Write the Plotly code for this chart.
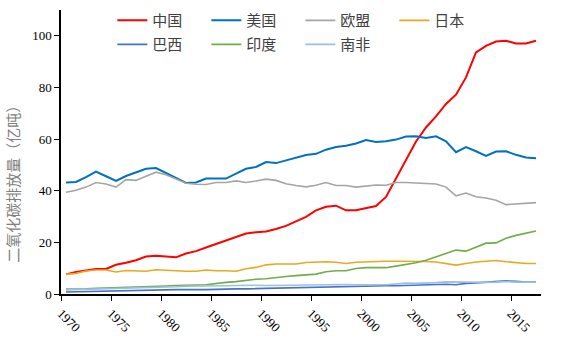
import plotly.graph_objects as go

years = list(range(1970, 2018))

china = [7.6, 8.5, 9.1, 9.7, 9.7, 11.3, 12.1, 13.1, 14.5, 14.8,
         14.5, 14.2, 15.7, 16.6, 18.0, 19.4, 20.6, 21.9, 23.4, 23.9,
         24.2, 25.2, 26.4, 28.1, 29.9, 32.4, 33.8, 34.2, 32.4, 32.4,
         33.2, 34.1, 37.6, 44.8, 51.9, 59.1, 64.5, 68.8, 73.6, 77.2,
         83.9, 93.6, 96.1, 97.8, 98.1, 97.0, 97.0, 98.1]
usa = [43.2, 43.4, 45.3, 47.4, 45.6, 43.8, 45.7, 47.1, 48.5, 48.8,
       46.8, 45.0, 43.0, 43.2, 44.7, 44.7, 44.7, 46.6, 48.5, 49.2,
       51.1, 50.7, 51.7, 52.8, 53.8, 54.3, 55.9, 56.9, 57.4, 58.3,
       59.6, 58.9, 59.2, 59.8, 61.0, 61.1, 60.4, 61.1, 59.1, 54.9,
       56.9, 55.3, 53.5, 55.2, 55.3, 53.9, 52.9, 52.6]
eu = [39.4, 40.2, 41.4, 43.2, 42.6, 41.4, 44.3, 44.0, 45.6, 47.2,
      46.2, 44.4, 42.9, 42.5, 42.4, 43.2, 43.2, 43.8, 43.2, 43.8,
      44.5, 44.0, 42.7, 42.0, 41.5, 42.1, 43.2, 42.0, 42.0, 41.4,
      41.7, 42.2, 42.1, 43.2, 43.2, 43.0, 43.0, 42.6, 41.4, 38.0,
      39.1, 37.7, 37.2, 36.3, 34.6, 34.9, 35.0, 35.4]
japan = [7.6, 8.0, 8.9, 9.3, 9.3, 8.5, 9.1, 9.0, 8.8, 9.4,
         9.3, 9.0, 8.8, 8.8, 9.3, 9.0, 9.0, 8.8, 9.8, 10.3,
         11.3, 11.6, 11.6, 11.6, 12.2, 12.4, 12.5, 12.3, 11.8, 12.3,
         12.5, 12.5, 12.7, 12.7, 12.7, 12.7, 12.6, 12.4, 11.8, 11.2,
         11.8, 12.4, 12.7, 13.0, 12.5, 12.1, 11.8, 11.8]
brazil = [0.8, 0.9, 1.0, 1.1, 1.2, 1.3, 1.4, 1.5, 1.6, 1.7,
          1.8, 1.7, 1.7, 1.6, 1.7, 1.8, 2.0, 2.0, 2.0, 2.1,
          2.1, 2.2, 2.2, 2.3, 2.4, 2.5, 2.7, 2.9, 3.0, 3.1,
          3.2, 3.3, 3.2, 3.2, 3.3, 3.4, 3.4, 3.6, 3.8, 3.6,
          4.1, 4.3, 4.6, 4.9, 5.1, 4.9, 4.6, 4.7]
india = [1.9, 1.9, 2.0, 2.2, 2.3, 2.4, 2.6, 2.6, 2.8, 3.0,
         3.1, 3.3, 3.5, 3.5, 3.6, 4.1, 4.5, 4.8, 5.3, 5.7,
         5.9, 6.4, 6.8, 7.1, 7.4, 7.7, 8.6, 9.0, 9.0, 9.9,
         10.2, 10.2, 10.2, 10.8, 11.5, 12.1, 13.1, 14.4, 15.4, 17.0,
         16.6, 18.3, 19.7, 19.8, 21.6, 22.7, 23.6, 24.4]
safrica = [1.6, 1.7, 1.7, 1.8, 1.9, 2.0, 2.1, 2.2, 2.3, 2.4,
           2.6, 2.8, 3.0, 3.0, 3.2, 3.2, 3.2, 3.3, 3.4, 3.4,
           3.3, 3.3, 3.2, 3.4, 3.5, 3.6, 3.7, 3.8, 3.7, 3.6,
           3.7, 3.6, 3.6, 3.9, 4.2, 4.1, 4.2, 4.4, 4.7, 4.6,
           4.6, 4.5, 4.5, 4.6, 4.8, 4.6, 4.6, 4.6]

series_names = ["中国", "美国", "欧盟", "日本", "巴西", "印度", "南非"]
series_values = [china, usa, eu, japan, brazil, india, safrica]
colors = ["#FF0000", "#0070C0", "#A5A5A5", "#E8A920", "#4472C4", "#70AD47", "#9DBFE6"]
widths = [2, 2, 1.6, 1.6, 1.6, 1.6, 1.6]
legend_rows = ["legend", "legend", "legend", "legend", "legend2", "legend2", "legend2"]

tick_labels = [1970, 1975, 1980, 1985, 1990, 1995, 2000, 2005, 2010, 2015]
y_title = "二氧化碳排放量（亿吨）"

font_fam = "Liberation Serif, Noto Sans CJK SC, serif"

fig = go.Figure()
for name, vals, c, w, lg in zip(series_names, series_values, colors, widths, legend_rows):
    fig.add_trace(go.Scatter(x=years, y=vals, mode="lines", name=name,
                             line=dict(color=c, width=w), legend=lg))

legend_common = dict(orientation="h", x=0.107, xanchor="left",
                     yref="container", yanchor="top",
                     entrywidth=49, entrywidthmode="pixels",
                     font=dict(size=15, color="#404040"),
                     bgcolor="rgba(0,0,0,0)")

fig.update_layout(
    width=564, height=343,
    margin=dict(l=61, r=23, t=10, b=49, autoexpand=False),
    plot_bgcolor="white", paper_bgcolor="white",
    font=dict(family=font_fam, size=13, color="#000000"),
    showlegend=True,
    legend=dict(y=0.988, **legend_common),
    legend2=dict(y=0.918, **legend_common),
)
fig.update_xaxes(
    range=[1969.5, 2017.5],
    tickmode="array",
    tickvals=[t - 0.5 for t in tick_labels],
    ticktext=[str(t) for t in tick_labels],
    tickangle=45,
    ticks="outside", ticklen=5, tickcolor="black", tickwidth=1.3,
    showline=True, linecolor="black", linewidth=1.5,
    showgrid=False, zeroline=False,
    tickfont=dict(size=13, family=font_fam),
)
fig.update_yaxes(
    range=[0, 110],
    tickvals=[0, 20, 40, 60, 80, 100],
    ticks="outside", ticklen=5, tickcolor="black", tickwidth=1.3,
    showline=True, linecolor="black", linewidth=1.5,
    showgrid=False, zeroline=False,
    tickfont=dict(size=13, family=font_fam),
)
fig.add_annotation(
    text=y_title, textangle=-90, showarrow=False,
    xref="paper", yref="paper", x=-0.097, y=0.40, xanchor="center", yanchor="middle",
    font=dict(size=15, color="#808080", family=font_fam),
)

fig.write_html("out.html")
